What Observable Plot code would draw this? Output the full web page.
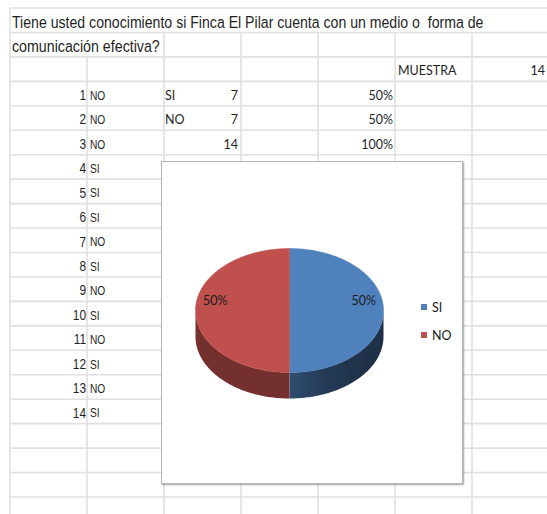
<!DOCTYPE html>
<html>
<head>
<meta charset="utf-8">
<script src="https://cdn.jsdelivr.net/npm/d3@7"></script>
<script src="https://cdn.jsdelivr.net/npm/@observablehq/plot@0.6"></script>
<style>
  html, body { margin: 0; padding: 0; background: #fff; }
  #wrap { position: relative; width: 547px; height: 514px; overflow: hidden; }
  #grid { position: absolute; left: 0; top: 0; }
  #box { position: absolute; left: 161px; top: 161px; width: 300px; height: 321px;
         background: #fff; border: 1px solid #b4b4b4; box-shadow: 1px 1px 1.5px rgba(0,0,0,0.35); }
  #box svg { position: absolute; left: 0; top: 0; }
  .leg { position: absolute; left: 259px; height: 14px; display: flex; align-items: center;
         font: 12.5px Lato, "Open Sans", sans-serif; color: #1a1a1a; }
  .leg span.sw { display: inline-block; width: 6px; height: 6px; margin-right: 5px; }
</style>
</head>
<body>
<div id="wrap">
  <svg id="grid"></svg>
  <div id="box"></div>
</div>
<script>
// ---------------- data ----------------
const titleLines = ["Tiene usted conocimiento si Finca El Pilar cuenta con un medio o  forma de", "comunicación efectiva?"];
const respondents = [1, 2, 3, 4, 5, 6, 7, 8, 9, 10, 11, 12, 13, 14];
const responses = ["NO", "NO", "NO", "SI", "SI", "SI", "NO", "SI", "NO", "SI", "NO", "SI", "NO", "SI"];
const categories = ["SI", "NO"];
const counts = [7, 7];
const sampleLabel = "MUESTRA";
const sampleSize = 14;
const palette = ["#4F81BD", "#C0504D"];

// ---------------- spreadsheet background ----------------
const sans = '"Liberation Sans",Arial,sans-serif';
const calib = 'Lato,"Open Sans",sans-serif';
const colX = [10, 87, 164, 241, 318, 395, 472, 549];
const row0 = 8, rowH = 24.45;
const rowY = k => row0 + rowH * k;
const grid = d3.select("#grid").attr("width", 547).attr("height", 514);
const gridColor = "#e0e0e0";
for (let k = 0; k <= 21; k++) {
  grid.append("line").attr("x1", 10).attr("x2", 547).attr("y1", rowY(k)).attr("y2", rowY(k))
    .attr("stroke", gridColor).attr("stroke-width", 1.6);
}
grid.append("line").attr("x1", colX[0]).attr("x2", colX[0]).attr("y1", row0).attr("y2", 514)
  .attr("stroke", gridColor).attr("stroke-width", 1.6);
for (let i = 1; i < colX.length; i++) {
  const startRow = i >= 2 ? 1 : 2;
  grid.append("line").attr("x1", colX[i]).attr("x2", colX[i]).attr("y1", rowY(startRow)).attr("y2", 514)
    .attr("stroke", gridColor).attr("stroke-width", 1.6);
}
function cellText(txt, x, k, opts) {
  const y = rowY(k + 1) - (opts.off ?? 6);
  const t = grid.append("text")
    .attr("font-family", opts.family).attr("font-size", opts.size)
    .attr("fill", "#1f1f1f").attr("text-anchor", opts.anchor || "start")
    .style("white-space", "pre").text(txt);
  let sx = opts.sx ?? 1;
  if (opts.len) sx = opts.len / t.node().getComputedTextLength();
  t.attr("transform", `translate(${x},${y}) scale(${sx},1)`);
  return t;
}
cellText(titleLines[0], 12, 0, {family: sans, size: 17, len: 472, off: 4.2});
cellText(titleLines[1], 12, 1, {family: sans, size: 17, len: 148, off: 5.2});
cellText(sampleLabel, 398, 2, {family: calib, size: 12.5});
cellText(String(sampleSize), 545, 2, {family: calib, size: 12.5, anchor: "end"});
respondents.forEach((r, i) => {
  const k = i + 3;
  cellText(String(r), 86, k, {family: sans, size: 14.5, anchor: "end", sx: 0.82});
  cellText(responses[i], 90, k, {family: sans, size: 12, off: 6.2, sx: 0.85});
});
const total = d3.sum(counts);
const pct = d3.format(".0%");
categories.forEach((c, i) => {
  const k = i + 3;
  cellText(c, 165, k, {family: calib, size: 12.5});
  cellText(String(counts[i]), 238, k, {family: calib, size: 12.5, anchor: "end"});
  cellText(pct(counts[i] / total), 393, k, {family: calib, size: 12.5, anchor: "end"});
});
cellText(String(total), 238, 5, {family: calib, size: 12.5, anchor: "end"});
cellText(pct(1), 393, 5, {family: calib, size: 12.5, anchor: "end"});

// ---------------- 3D pie with Plot ----------------
const W = 300, H = 321;
const cx = 127, cy = 148, rx = 94, ry = 62, depth = 26;
const tilt = depth / ry;
const arcs = d3.pie().sort(null).startAngle(0).endAngle(2 * Math.PI)(counts);
const slices = arcs.map((p, i) => ({cat: categories[i], color: palette[i], a0: p.startAngle, a1: p.endAngle, value: p.value, i}));

const topFaces = [];
slices.forEach(s => {
  topFaces.push({key: s.cat, x: 0, y: 0, fill: s.color});
  const n = Math.ceil((s.a1 - s.a0) / (Math.PI / 180));
  for (let j = 0; j <= n; j++) {
    const a = s.a0 + (s.a1 - s.a0) * j / n;
    topFaces.push({key: s.cat, x: Math.sin(a), y: Math.cos(a), fill: s.color});
  }
});

// visible front side of each slice, filled with a lit gradient
const sides = [];
const sideRanges = [];
slices.forEach(s => {
  const lo = Math.max(s.a0, Math.PI / 2), hi = Math.min(s.a1, 3 * Math.PI / 2);
  if (hi <= lo) return;
  const n = Math.ceil((hi - lo) / (Math.PI / 180));
  const fill = `url(#side-grad-${s.i})`;
  const pts = [];
  for (let j = 0; j <= n; j++) {
    const b = lo + (hi - lo) * j / n;
    pts.push({x: Math.sin(b), y: Math.cos(b)});
  }
  pts.forEach(p => sides.push({id: s.cat, x: p.x, y: p.y, fill}));
  pts.slice().reverse().forEach(p => sides.push({id: s.cat, x: p.x, y: p.y - tilt, fill}));
  const xs = pts.map(p => p.x);
  sideRanges.push({i: s.i, color: s.color, xmin: d3.min(xs), xmax: d3.max(xs)});
});

function shade(x) {
  return x < 0 ? 0.88 - 0.36 * (x + 1) : 0.38 + 0.22 * (1 - x) * (1 - x);
}

const labels = slices.map(s => {
  const m = (s.a0 + s.a1) / 2;
  return {x: 0.79 * Math.sin(m), y: 0.79 * Math.cos(m), text: pct(s.value / total)};
});

const chart = Plot.plot({
  width: W, height: H, margin: 0,
  style: {background: "transparent"},
  x: {domain: [-1, 1], range: [cx - rx, cx + rx], axis: null},
  y: {domain: [-1, 1], range: [cy + ry, cy - ry], axis: null},
  color: {type: "identity"},
  marks: [
    Plot.line(sides, {x: "x", y: "y", z: "id", fill: "fill", stroke: "none", curve: "linear-closed"}),
    Plot.line(topFaces, {x: "x", y: "y", z: "key", fill: "fill", stroke: "fill", strokeWidth: 0.5, curve: "linear-closed"}),
    Plot.text(labels, {x: "x", y: "y", text: "text", dy: -10, fontSize: 12.5, fontFamily: calib, fill: "#1a1a1a"})
  ]
});

// gradient definitions, positioned with the chart's own x scale
const xs = chart.scale("x");
const defs = d3.select(chart).insert("defs", ":first-child");
sideRanges.forEach(r => {
  const base = d3.rgb(r.color);
  const g = defs.append("linearGradient").attr("id", `side-grad-${r.i}`)
    .attr("gradientUnits", "userSpaceOnUse")
    .attr("x1", xs.apply(r.xmin)).attr("x2", xs.apply(r.xmax)).attr("y1", 0).attr("y2", 0);
  const steps = 10;
  for (let j = 0; j <= steps; j++) {
    const t = j / steps;
    const xv = r.xmin + (r.xmax - r.xmin) * t;
    const f = shade(r.xmax <= 0 ? Math.min(xv, -1e-6) : Math.max(xv, 1e-6));
    g.append("stop").attr("offset", t)
      .attr("stop-color", d3.rgb(base.r * f, base.g * f, base.b * f).formatHex());
  }
});

const box = document.getElementById("box");
box.appendChild(chart);

// legend
categories.forEach((c, i) => {
  const d = document.createElement("div");
  d.className = "leg";
  d.style.top = (138 + 28 * i) + "px";
  d.innerHTML = `<span class="sw" style="background:${palette[i]}"></span>${c}`;
  box.appendChild(d);
});
</script>
</body>
</html>
